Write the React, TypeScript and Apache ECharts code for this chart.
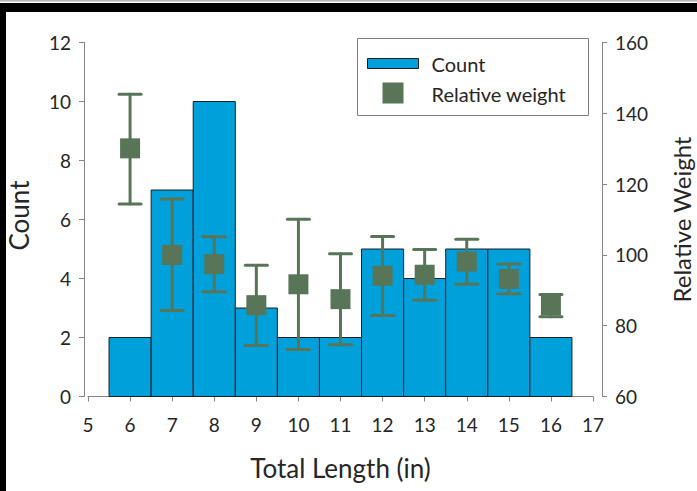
import React, { useEffect, useRef } from "react";
import * as echarts from "echarts";

const lengths = [6, 7, 8, 9, 10, 11, 12, 13, 14, 15, 16];
const counts = [2, 7, 10, 3, 2, 2, 5, 4, 5, 5, 2];
const relWeight = [130.1, 100.0, 97.4, 85.8, 91.7, 87.5, 94.1, 94.4, 98.1, 93.2, 85.7];
const rwUpper = [145.4, 115.8, 105.1, 97.1, 110.1, 100.3, 105.2, 101.5, 104.4, 97.4, 88.8];
const rwLower = [114.4, 84.3, 89.6, 74.4, 73.3, 74.6, 82.9, 87.2, 91.7, 89.0, 82.5];

const FONT = "Lato";
const BAR_COLOR = "#00A0DA";
const MARK_COLOR = "#587558";
const TEXT_COLOR = "#262626";
const AXIS_COLOR = "#868686";

export default function App() {
  const ref = useRef<HTMLDivElement>(null);
  useEffect(() => {
    if (!ref.current) return;
    const chart = echarts.init(ref.current, undefined, { renderer: "svg" });
    const barData = lengths.map((x, i) => [x, counts[i]]);
    const errData = lengths.map((x, i) => [x, rwLower[i], rwUpper[i]]);
    const rwData = lengths.map((x, i) => [x, relWeight[i]]);
    chart.setOption({
      animation: false,
      backgroundColor: "#ffffff",
      textStyle: { fontFamily: FONT, color: TEXT_COLOR },
      grid: { left: 88, right: 104, top: 42.5, bottom: 94.5, outerBoundsMode: "none", containLabel: false },
      xAxis: {
        type: "value",
        min: 5,
        max: 17,
        interval: 1,
        splitLine: { show: false },
        axisLine: { lineStyle: { color: AXIS_COLOR, width: 1 } },
        axisTick: { show: true, length: 5, lineStyle: { color: AXIS_COLOR } },
        axisLabel: { fontSize: 19, color: TEXT_COLOR, fontFamily: FONT, margin: 18 },
        name: "Total Length (in)",
        nameLocation: "middle",
        nameGap: 58,
        nameTextStyle: { fontSize: 26, color: TEXT_COLOR, fontFamily: FONT },
      },
      yAxis: [
        {
          type: "value",
          min: 0,
          max: 12,
          interval: 2,
          offset: 4,
          splitLine: { show: false },
          axisLine: { show: true, lineStyle: { color: AXIS_COLOR, width: 1 } },
          axisTick: { show: true, length: 5, lineStyle: { color: AXIS_COLOR } },
          axisLabel: { fontSize: 19, color: TEXT_COLOR, fontFamily: FONT, margin: 13 },
          name: "Count",
          nameLocation: "middle",
          nameGap: 52,
          nameTextStyle: { fontSize: 26, color: TEXT_COLOR, fontFamily: FONT, padding: [0, 0, 0, 8] },
        },
        {
          type: "value",
          min: 60,
          max: 160,
          interval: 20,
          offset: 9,
          position: "right",
          splitLine: { show: false },
          axisLine: { show: true, lineStyle: { color: AXIS_COLOR, width: 1 } },
          axisTick: { show: true, length: 5, lineStyle: { color: AXIS_COLOR } },
          axisLabel: { fontSize: 19, color: TEXT_COLOR, fontFamily: FONT, margin: 13 },
          name: "Relative Weight",
          nameLocation: "middle",
          nameGap: 67,
          nameRotate: 90,
          nameTextStyle: { fontSize: 24, color: TEXT_COLOR, fontFamily: FONT },
        },
      ],
      series: [
        {
          name: "Count",
          type: "custom",
          xAxisIndex: 0,
          yAxisIndex: 0,
          clip: false,
          encode: { x: 0, y: 1 },
          data: barData,
          renderItem: (params: any, api: any) => {
            const x = api.value(0);
            const y = api.value(1);
            const p1 = api.coord([x - 0.5, y]);
            const p2 = api.coord([x + 0.5, 0]);
            return {
              type: "rect",
              shape: { x: p1[0], y: p1[1], width: p2[0] - p1[0], height: p2[1] - p1[1] },
              style: { fill: BAR_COLOR, stroke: "#1f1f1f", lineWidth: 1 },
            };
          },
          z: 1,
        },
        {
          name: "Error",
          type: "custom",
          xAxisIndex: 0,
          yAxisIndex: 1,
          clip: false,
          encode: { x: 0, y: [1, 2] },
          data: errData,
          renderItem: (params: any, api: any) => {
            const x = api.value(0);
            const lo = api.coord([x, api.value(1)]);
            const hi = api.coord([x, api.value(2)]);
            const hw = 11;
            const st = { stroke: MARK_COLOR, lineWidth: 3, lineCap: "round" };
            return {
              type: "group",
              children: [
                { type: "line", shape: { x1: lo[0], y1: lo[1], x2: hi[0], y2: hi[1] }, style: st },
                { type: "line", shape: { x1: hi[0] - hw, y1: hi[1], x2: hi[0] + hw, y2: hi[1] }, style: st },
                { type: "line", shape: { x1: lo[0] - hw, y1: lo[1], x2: lo[0] + hw, y2: lo[1] }, style: st },
              ],
            };
          },
          z: 2,
        },
        {
          name: "Relative weight",
          type: "scatter",
          xAxisIndex: 0,
          yAxisIndex: 1,
          symbol: "rect",
          symbolSize: 20,
          itemStyle: { color: MARK_COLOR, opacity: 1 },
          data: rwData,
          z: 3,
        },
      ],
      graphic: [
        { type: "rect", left: 0, top: 0, shape: { width: 697, height: 1.5 }, style: { fill: "#b4b4b4" }, z: 100 },
        { type: "rect", left: 0, top: 3, shape: { width: 697, height: 9 }, style: { fill: "#000000" }, z: 100 },
        { type: "rect", left: 0, top: 3, shape: { width: 6, height: 488 }, style: { fill: "#000000" }, z: 100 },
        {
          type: "group",
          left: 357,
          top: 38,
          z: 50,
          children: [
            { type: "rect", shape: { x: 0, y: 0, width: 231, height: 77 }, style: { fill: "#ffffff", stroke: "#7f7f7f", lineWidth: 1 } },
            { type: "rect", shape: { x: 10, y: 20, width: 51, height: 10 }, style: { fill: BAR_COLOR, stroke: "#1f1f1f", lineWidth: 1 } },
            { type: "text", x: 74, y: 25, style: { text: "Count", fontSize: 20, fontFamily: FONT, fill: TEXT_COLOR, verticalAlign: "middle" } },
            { type: "rect", shape: { x: 25, y: 44, width: 21, height: 21 }, style: { fill: MARK_COLOR } },
            { type: "text", x: 74, y: 55, style: { text: "Relative weight", fontSize: 20, fontFamily: FONT, fill: TEXT_COLOR, verticalAlign: "middle" } },
          ],
        },
      ],
    });
    return () => chart.dispose();
  }, []);
  return (
    <div
      ref={ref}
      style={{ position: "absolute", left: 0, top: 0, width: 697, height: 491, background: "#fff" }}
    />
  );
}
